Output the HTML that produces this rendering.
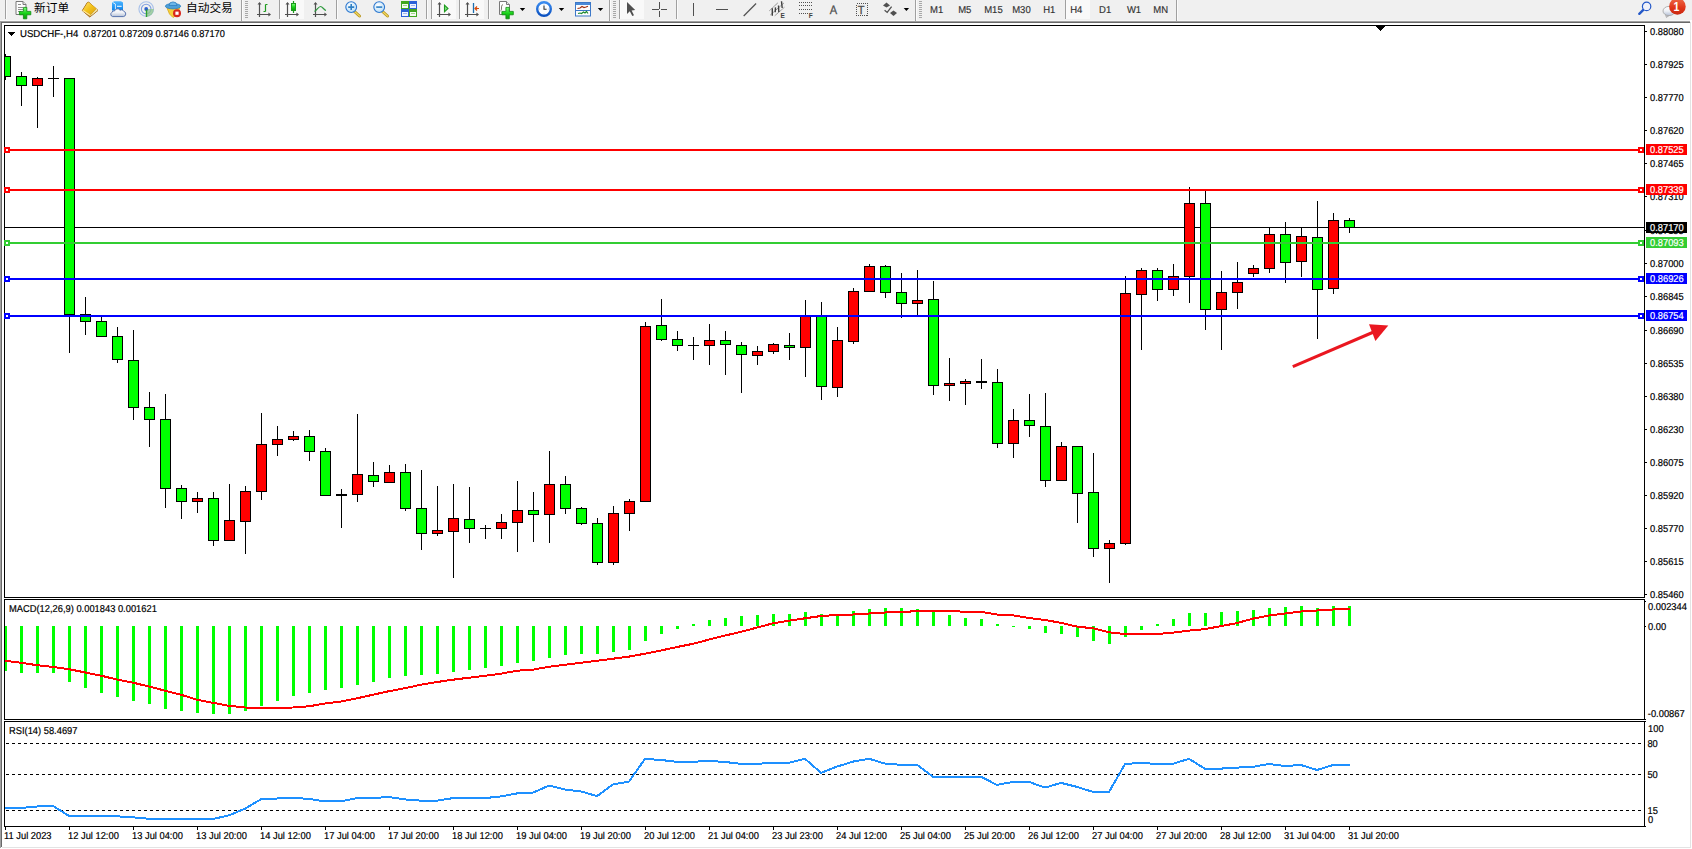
<!DOCTYPE html>
<html><head><meta charset="utf-8"><title>USDCHF-,H4</title>
<style>
html,body{margin:0;padding:0;background:#fff;}
body{width:1692px;height:849px;position:relative;overflow:hidden;font-family:"Liberation Sans","Noto Sans CJK SC",sans-serif;}
#tb{position:absolute;left:0;top:0;width:1692px;height:20px;background:#f0f0f0;}
#tbl{position:absolute;left:0;top:20px;width:1690px;height:3px;background:linear-gradient(#f7f7f7 0,#f7f7f7 33.3%,#a0a0a0 33.3%,#a0a0a0 66.6%,#696969 66.6%,#696969 100%);}
</style></head><body>
<div id="tb"></div><div id="tbl"></div>
<svg id="chart" width="1692" height="849" viewBox="0 0 1692 849" style="position:absolute;left:0;top:0">
<g shape-rendering="crispEdges">
<rect x="0" y="21" width="1" height="827" fill="#a0a0a0"/>
<rect x="1" y="22" width="1" height="825" fill="#696969"/>
<rect x="1690" y="22" width="1" height="825" fill="#e3e3e3"/>
<rect x="2" y="847" width="1689" height="1" fill="#e3e3e3"/>
<rect x="4" y="25" width="1641" height="1" fill="#000"/>
<rect x="4" y="597" width="1641" height="1" fill="#000"/>
<rect x="4" y="25" width="1" height="573" fill="#000"/>
<rect x="1644" y="25" width="1" height="573" fill="#000"/>
<rect x="4" y="599" width="1641" height="1" fill="#000"/>
<rect x="4" y="719" width="1641" height="1" fill="#000"/>
<rect x="4" y="599" width="1" height="121" fill="#000"/>
<rect x="1644" y="599" width="1" height="121" fill="#000"/>
<rect x="4" y="721" width="1641" height="1" fill="#000"/>
<rect x="4" y="826" width="1641" height="1" fill="#000"/>
<rect x="4" y="721" width="1" height="106" fill="#000"/>
<rect x="1644" y="721" width="1" height="106" fill="#000"/>
<rect x="5" y="227" width="1639" height="1" fill="#000"/>
<rect x="5" y="54" width="1" height="26" fill="#000"/>
<rect x="5" y="56" width="6" height="21" fill="#000"/>
<rect x="5" y="57" width="5" height="19" fill="#00ff00"/>
<rect x="21" y="72" width="1" height="34" fill="#000"/>
<rect x="16" y="76" width="11" height="10" fill="#000"/>
<rect x="17" y="77" width="9" height="8" fill="#00ff00"/>
<rect x="37" y="77" width="1" height="51" fill="#000"/>
<rect x="32" y="78" width="11" height="8" fill="#000"/>
<rect x="33" y="79" width="9" height="6" fill="#ff0000"/>
<rect x="53" y="66" width="1" height="31" fill="#000"/>
<rect x="48" y="78" width="11" height="1" fill="#000"/>
<rect x="69" y="78" width="1" height="275" fill="#000"/>
<rect x="64" y="78" width="11" height="237" fill="#000"/>
<rect x="65" y="79" width="9" height="235" fill="#00ff00"/>
<rect x="85" y="297" width="1" height="38" fill="#000"/>
<rect x="80" y="314" width="11" height="8" fill="#000"/>
<rect x="81" y="315" width="9" height="6" fill="#00ff00"/>
<rect x="101" y="317" width="1" height="20" fill="#000"/>
<rect x="96" y="321" width="11" height="16" fill="#000"/>
<rect x="97" y="322" width="9" height="14" fill="#00ff00"/>
<rect x="117" y="327" width="1" height="36" fill="#000"/>
<rect x="112" y="336" width="11" height="24" fill="#000"/>
<rect x="113" y="337" width="9" height="22" fill="#00ff00"/>
<rect x="133" y="330" width="1" height="90" fill="#000"/>
<rect x="128" y="360" width="11" height="48" fill="#000"/>
<rect x="129" y="361" width="9" height="46" fill="#00ff00"/>
<rect x="149" y="392" width="1" height="55" fill="#000"/>
<rect x="144" y="407" width="11" height="13" fill="#000"/>
<rect x="145" y="408" width="9" height="11" fill="#00ff00"/>
<rect x="165" y="394" width="1" height="114" fill="#000"/>
<rect x="160" y="419" width="11" height="70" fill="#000"/>
<rect x="161" y="420" width="9" height="68" fill="#00ff00"/>
<rect x="181" y="485" width="1" height="34" fill="#000"/>
<rect x="176" y="488" width="11" height="14" fill="#000"/>
<rect x="177" y="489" width="9" height="12" fill="#00ff00"/>
<rect x="197" y="492" width="1" height="21" fill="#000"/>
<rect x="192" y="498" width="11" height="4" fill="#000"/>
<rect x="193" y="499" width="9" height="2" fill="#ff0000"/>
<rect x="213" y="492" width="1" height="54" fill="#000"/>
<rect x="208" y="498" width="11" height="43" fill="#000"/>
<rect x="209" y="499" width="9" height="41" fill="#00ff00"/>
<rect x="229" y="484" width="1" height="56" fill="#000"/>
<rect x="224" y="520" width="11" height="21" fill="#000"/>
<rect x="225" y="521" width="9" height="19" fill="#ff0000"/>
<rect x="245" y="486" width="1" height="68" fill="#000"/>
<rect x="240" y="491" width="11" height="31" fill="#000"/>
<rect x="241" y="492" width="9" height="29" fill="#ff0000"/>
<rect x="261" y="413" width="1" height="87" fill="#000"/>
<rect x="256" y="444" width="11" height="48" fill="#000"/>
<rect x="257" y="445" width="9" height="46" fill="#ff0000"/>
<rect x="277" y="426" width="1" height="30" fill="#000"/>
<rect x="272" y="439" width="11" height="6" fill="#000"/>
<rect x="273" y="440" width="9" height="4" fill="#ff0000"/>
<rect x="293" y="431" width="1" height="10" fill="#000"/>
<rect x="288" y="436" width="11" height="4" fill="#000"/>
<rect x="289" y="437" width="9" height="2" fill="#ff0000"/>
<rect x="309" y="430" width="1" height="31" fill="#000"/>
<rect x="304" y="436" width="11" height="16" fill="#000"/>
<rect x="305" y="437" width="9" height="14" fill="#00ff00"/>
<rect x="325" y="448" width="1" height="48" fill="#000"/>
<rect x="320" y="451" width="11" height="45" fill="#000"/>
<rect x="321" y="452" width="9" height="43" fill="#00ff00"/>
<rect x="341" y="489" width="1" height="39" fill="#000"/>
<rect x="336" y="494" width="11" height="2" fill="#000"/>
<rect x="357" y="414" width="1" height="88" fill="#000"/>
<rect x="352" y="474" width="11" height="21" fill="#000"/>
<rect x="353" y="475" width="9" height="19" fill="#ff0000"/>
<rect x="373" y="462" width="1" height="25" fill="#000"/>
<rect x="368" y="475" width="11" height="7" fill="#000"/>
<rect x="369" y="476" width="9" height="5" fill="#00ff00"/>
<rect x="389" y="465" width="1" height="18" fill="#000"/>
<rect x="384" y="472" width="11" height="11" fill="#000"/>
<rect x="385" y="473" width="9" height="9" fill="#ff0000"/>
<rect x="405" y="464" width="1" height="47" fill="#000"/>
<rect x="400" y="472" width="11" height="37" fill="#000"/>
<rect x="401" y="473" width="9" height="35" fill="#00ff00"/>
<rect x="421" y="470" width="1" height="80" fill="#000"/>
<rect x="416" y="508" width="11" height="26" fill="#000"/>
<rect x="417" y="509" width="9" height="24" fill="#00ff00"/>
<rect x="437" y="486" width="1" height="50" fill="#000"/>
<rect x="432" y="530" width="11" height="4" fill="#000"/>
<rect x="433" y="531" width="9" height="2" fill="#ff0000"/>
<rect x="453" y="484" width="1" height="94" fill="#000"/>
<rect x="448" y="518" width="11" height="14" fill="#000"/>
<rect x="449" y="519" width="9" height="12" fill="#ff0000"/>
<rect x="469" y="487" width="1" height="56" fill="#000"/>
<rect x="464" y="519" width="11" height="10" fill="#000"/>
<rect x="465" y="520" width="9" height="8" fill="#00ff00"/>
<rect x="485" y="525" width="1" height="14" fill="#000"/>
<rect x="480" y="528" width="11" height="1" fill="#000"/>
<rect x="501" y="514" width="1" height="25" fill="#000"/>
<rect x="496" y="522" width="11" height="7" fill="#000"/>
<rect x="497" y="523" width="9" height="5" fill="#ff0000"/>
<rect x="517" y="481" width="1" height="71" fill="#000"/>
<rect x="512" y="510" width="11" height="13" fill="#000"/>
<rect x="513" y="511" width="9" height="11" fill="#ff0000"/>
<rect x="533" y="492" width="1" height="50" fill="#000"/>
<rect x="528" y="510" width="11" height="5" fill="#000"/>
<rect x="529" y="511" width="9" height="3" fill="#00ff00"/>
<rect x="549" y="451" width="1" height="92" fill="#000"/>
<rect x="544" y="484" width="11" height="31" fill="#000"/>
<rect x="545" y="485" width="9" height="29" fill="#ff0000"/>
<rect x="565" y="476" width="1" height="38" fill="#000"/>
<rect x="560" y="484" width="11" height="25" fill="#000"/>
<rect x="561" y="485" width="9" height="23" fill="#00ff00"/>
<rect x="581" y="507" width="1" height="18" fill="#000"/>
<rect x="576" y="508" width="11" height="16" fill="#000"/>
<rect x="577" y="509" width="9" height="14" fill="#00ff00"/>
<rect x="597" y="518" width="1" height="47" fill="#000"/>
<rect x="592" y="523" width="11" height="40" fill="#000"/>
<rect x="593" y="524" width="9" height="38" fill="#00ff00"/>
<rect x="613" y="506" width="1" height="59" fill="#000"/>
<rect x="608" y="513" width="11" height="50" fill="#000"/>
<rect x="609" y="514" width="9" height="48" fill="#ff0000"/>
<rect x="629" y="499" width="1" height="32" fill="#000"/>
<rect x="624" y="501" width="11" height="13" fill="#000"/>
<rect x="625" y="502" width="9" height="11" fill="#ff0000"/>
<rect x="645" y="322" width="1" height="180" fill="#000"/>
<rect x="640" y="326" width="11" height="176" fill="#000"/>
<rect x="641" y="327" width="9" height="174" fill="#ff0000"/>
<rect x="661" y="299" width="1" height="42" fill="#000"/>
<rect x="656" y="325" width="11" height="15" fill="#000"/>
<rect x="657" y="326" width="9" height="13" fill="#00ff00"/>
<rect x="677" y="331" width="1" height="20" fill="#000"/>
<rect x="672" y="339" width="11" height="7" fill="#000"/>
<rect x="673" y="340" width="9" height="5" fill="#00ff00"/>
<rect x="693" y="337" width="1" height="23" fill="#000"/>
<rect x="688" y="345" width="11" height="1" fill="#000"/>
<rect x="709" y="324" width="1" height="41" fill="#000"/>
<rect x="704" y="340" width="11" height="6" fill="#000"/>
<rect x="705" y="341" width="9" height="4" fill="#ff0000"/>
<rect x="725" y="331" width="1" height="44" fill="#000"/>
<rect x="720" y="340" width="11" height="5" fill="#000"/>
<rect x="721" y="341" width="9" height="3" fill="#00ff00"/>
<rect x="741" y="342" width="1" height="51" fill="#000"/>
<rect x="736" y="345" width="11" height="10" fill="#000"/>
<rect x="737" y="346" width="9" height="8" fill="#00ff00"/>
<rect x="757" y="346" width="1" height="19" fill="#000"/>
<rect x="752" y="351" width="11" height="5" fill="#000"/>
<rect x="753" y="352" width="9" height="3" fill="#ff0000"/>
<rect x="773" y="343" width="1" height="11" fill="#000"/>
<rect x="768" y="344" width="11" height="8" fill="#000"/>
<rect x="769" y="345" width="9" height="6" fill="#ff0000"/>
<rect x="789" y="333" width="1" height="27" fill="#000"/>
<rect x="784" y="345" width="11" height="3" fill="#000"/>
<rect x="785" y="346" width="9" height="1" fill="#00ff00"/>
<rect x="805" y="300" width="1" height="77" fill="#000"/>
<rect x="800" y="316" width="11" height="32" fill="#000"/>
<rect x="801" y="317" width="9" height="30" fill="#ff0000"/>
<rect x="821" y="302" width="1" height="98" fill="#000"/>
<rect x="816" y="316" width="11" height="71" fill="#000"/>
<rect x="817" y="317" width="9" height="69" fill="#00ff00"/>
<rect x="837" y="327" width="1" height="70" fill="#000"/>
<rect x="832" y="340" width="11" height="48" fill="#000"/>
<rect x="833" y="341" width="9" height="46" fill="#ff0000"/>
<rect x="853" y="288" width="1" height="56" fill="#000"/>
<rect x="848" y="291" width="11" height="51" fill="#000"/>
<rect x="849" y="292" width="9" height="49" fill="#ff0000"/>
<rect x="869" y="264" width="1" height="28" fill="#000"/>
<rect x="864" y="266" width="11" height="26" fill="#000"/>
<rect x="865" y="267" width="9" height="24" fill="#ff0000"/>
<rect x="885" y="265" width="1" height="33" fill="#000"/>
<rect x="880" y="266" width="11" height="27" fill="#000"/>
<rect x="881" y="267" width="9" height="25" fill="#00ff00"/>
<rect x="901" y="273" width="1" height="45" fill="#000"/>
<rect x="896" y="292" width="11" height="12" fill="#000"/>
<rect x="897" y="293" width="9" height="10" fill="#00ff00"/>
<rect x="917" y="270" width="1" height="45" fill="#000"/>
<rect x="912" y="300" width="11" height="4" fill="#000"/>
<rect x="913" y="301" width="9" height="2" fill="#ff0000"/>
<rect x="933" y="281" width="1" height="114" fill="#000"/>
<rect x="928" y="299" width="11" height="87" fill="#000"/>
<rect x="929" y="300" width="9" height="85" fill="#00ff00"/>
<rect x="949" y="358" width="1" height="43" fill="#000"/>
<rect x="944" y="383" width="11" height="3" fill="#000"/>
<rect x="945" y="384" width="9" height="1" fill="#ff0000"/>
<rect x="965" y="379" width="1" height="26" fill="#000"/>
<rect x="960" y="381" width="11" height="3" fill="#000"/>
<rect x="961" y="382" width="9" height="1" fill="#ff0000"/>
<rect x="981" y="359" width="1" height="30" fill="#000"/>
<rect x="976" y="381" width="11" height="2" fill="#000"/>
<rect x="997" y="369" width="1" height="79" fill="#000"/>
<rect x="992" y="382" width="11" height="62" fill="#000"/>
<rect x="993" y="383" width="9" height="60" fill="#00ff00"/>
<rect x="1013" y="409" width="1" height="49" fill="#000"/>
<rect x="1008" y="420" width="11" height="24" fill="#000"/>
<rect x="1009" y="421" width="9" height="22" fill="#ff0000"/>
<rect x="1029" y="394" width="1" height="43" fill="#000"/>
<rect x="1024" y="420" width="11" height="6" fill="#000"/>
<rect x="1025" y="421" width="9" height="4" fill="#00ff00"/>
<rect x="1045" y="393" width="1" height="94" fill="#000"/>
<rect x="1040" y="426" width="11" height="55" fill="#000"/>
<rect x="1041" y="427" width="9" height="53" fill="#00ff00"/>
<rect x="1061" y="442" width="1" height="39" fill="#000"/>
<rect x="1056" y="446" width="11" height="35" fill="#000"/>
<rect x="1057" y="447" width="9" height="33" fill="#ff0000"/>
<rect x="1077" y="446" width="1" height="77" fill="#000"/>
<rect x="1072" y="446" width="11" height="48" fill="#000"/>
<rect x="1073" y="447" width="9" height="46" fill="#00ff00"/>
<rect x="1093" y="453" width="1" height="104" fill="#000"/>
<rect x="1088" y="492" width="11" height="57" fill="#000"/>
<rect x="1089" y="493" width="9" height="55" fill="#00ff00"/>
<rect x="1109" y="540" width="1" height="43" fill="#000"/>
<rect x="1104" y="543" width="11" height="6" fill="#000"/>
<rect x="1105" y="544" width="9" height="4" fill="#ff0000"/>
<rect x="1125" y="276" width="1" height="269" fill="#000"/>
<rect x="1120" y="293" width="11" height="251" fill="#000"/>
<rect x="1121" y="294" width="9" height="249" fill="#ff0000"/>
<rect x="1141" y="268" width="1" height="82" fill="#000"/>
<rect x="1136" y="270" width="11" height="25" fill="#000"/>
<rect x="1137" y="271" width="9" height="23" fill="#ff0000"/>
<rect x="1157" y="268" width="1" height="33" fill="#000"/>
<rect x="1152" y="270" width="11" height="20" fill="#000"/>
<rect x="1153" y="271" width="9" height="18" fill="#00ff00"/>
<rect x="1173" y="264" width="1" height="32" fill="#000"/>
<rect x="1168" y="276" width="11" height="14" fill="#000"/>
<rect x="1169" y="277" width="9" height="12" fill="#ff0000"/>
<rect x="1189" y="187" width="1" height="116" fill="#000"/>
<rect x="1184" y="203" width="11" height="74" fill="#000"/>
<rect x="1185" y="204" width="9" height="72" fill="#ff0000"/>
<rect x="1205" y="191" width="1" height="139" fill="#000"/>
<rect x="1200" y="203" width="11" height="107" fill="#000"/>
<rect x="1201" y="204" width="9" height="105" fill="#00ff00"/>
<rect x="1221" y="271" width="1" height="79" fill="#000"/>
<rect x="1216" y="292" width="11" height="18" fill="#000"/>
<rect x="1217" y="293" width="9" height="16" fill="#ff0000"/>
<rect x="1237" y="262" width="1" height="47" fill="#000"/>
<rect x="1232" y="282" width="11" height="11" fill="#000"/>
<rect x="1233" y="283" width="9" height="9" fill="#ff0000"/>
<rect x="1253" y="265" width="1" height="12" fill="#000"/>
<rect x="1248" y="268" width="11" height="6" fill="#000"/>
<rect x="1249" y="269" width="9" height="4" fill="#ff0000"/>
<rect x="1269" y="228" width="1" height="45" fill="#000"/>
<rect x="1264" y="234" width="11" height="35" fill="#000"/>
<rect x="1265" y="235" width="9" height="33" fill="#ff0000"/>
<rect x="1285" y="222" width="1" height="61" fill="#000"/>
<rect x="1280" y="234" width="11" height="29" fill="#000"/>
<rect x="1281" y="235" width="9" height="27" fill="#00ff00"/>
<rect x="1301" y="228" width="1" height="49" fill="#000"/>
<rect x="1296" y="236" width="11" height="26" fill="#000"/>
<rect x="1297" y="237" width="9" height="24" fill="#ff0000"/>
<rect x="1317" y="201" width="1" height="138" fill="#000"/>
<rect x="1312" y="237" width="11" height="53" fill="#000"/>
<rect x="1313" y="238" width="9" height="51" fill="#00ff00"/>
<rect x="1333" y="213" width="1" height="81" fill="#000"/>
<rect x="1328" y="220" width="11" height="69" fill="#000"/>
<rect x="1329" y="221" width="9" height="67" fill="#ff0000"/>
<rect x="1349" y="218" width="1" height="15" fill="#000"/>
<rect x="1344" y="220" width="11" height="8" fill="#000"/>
<rect x="1345" y="221" width="9" height="6" fill="#00ff00"/>
<rect x="5" y="149" width="1639" height="2" fill="#ff0000"/>
<rect x="4" y="147" width="6" height="6" fill="#ff0000"/>
<rect x="6" y="149" width="2" height="2" fill="#fff"/>
<rect x="1638" y="147" width="6" height="6" fill="#ff0000"/>
<rect x="1640" y="149" width="2" height="2" fill="#fff"/>
<rect x="5" y="189" width="1639" height="2" fill="#ff0000"/>
<rect x="4" y="187" width="6" height="6" fill="#ff0000"/>
<rect x="6" y="189" width="2" height="2" fill="#fff"/>
<rect x="1638" y="187" width="6" height="6" fill="#ff0000"/>
<rect x="1640" y="189" width="2" height="2" fill="#fff"/>
<rect x="5" y="242" width="1639" height="2" fill="#32cd32"/>
<rect x="4" y="240" width="6" height="6" fill="#32cd32"/>
<rect x="6" y="242" width="2" height="2" fill="#fff"/>
<rect x="1638" y="240" width="6" height="6" fill="#32cd32"/>
<rect x="1640" y="242" width="2" height="2" fill="#fff"/>
<rect x="5" y="278" width="1639" height="2" fill="#0000ff"/>
<rect x="4" y="276" width="6" height="6" fill="#0000ff"/>
<rect x="6" y="278" width="2" height="2" fill="#fff"/>
<rect x="1638" y="276" width="6" height="6" fill="#0000ff"/>
<rect x="1640" y="278" width="2" height="2" fill="#fff"/>
<rect x="5" y="315" width="1639" height="2" fill="#0000ff"/>
<rect x="4" y="313" width="6" height="6" fill="#0000ff"/>
<rect x="6" y="315" width="2" height="2" fill="#fff"/>
<rect x="1638" y="313" width="6" height="6" fill="#0000ff"/>
<rect x="1640" y="315" width="2" height="2" fill="#fff"/>
<rect x="5" y="626" width="2" height="45" fill="#00ff00"/>
<rect x="20" y="626" width="3" height="47" fill="#00ff00"/>
<rect x="36" y="626" width="3" height="47" fill="#00ff00"/>
<rect x="52" y="626" width="3" height="47" fill="#00ff00"/>
<rect x="68" y="626" width="3" height="56" fill="#00ff00"/>
<rect x="84" y="626" width="3" height="62" fill="#00ff00"/>
<rect x="100" y="626" width="3" height="67" fill="#00ff00"/>
<rect x="116" y="626" width="3" height="71" fill="#00ff00"/>
<rect x="132" y="626" width="3" height="75" fill="#00ff00"/>
<rect x="148" y="626" width="3" height="78" fill="#00ff00"/>
<rect x="164" y="626" width="3" height="83" fill="#00ff00"/>
<rect x="180" y="626" width="3" height="85" fill="#00ff00"/>
<rect x="196" y="626" width="3" height="87" fill="#00ff00"/>
<rect x="212" y="626" width="3" height="88" fill="#00ff00"/>
<rect x="228" y="626" width="3" height="88" fill="#00ff00"/>
<rect x="244" y="626" width="3" height="85" fill="#00ff00"/>
<rect x="260" y="626" width="3" height="80" fill="#00ff00"/>
<rect x="276" y="626" width="3" height="75" fill="#00ff00"/>
<rect x="292" y="626" width="3" height="70" fill="#00ff00"/>
<rect x="308" y="626" width="3" height="67" fill="#00ff00"/>
<rect x="324" y="626" width="3" height="64" fill="#00ff00"/>
<rect x="340" y="626" width="3" height="62" fill="#00ff00"/>
<rect x="356" y="626" width="3" height="59" fill="#00ff00"/>
<rect x="372" y="626" width="3" height="56" fill="#00ff00"/>
<rect x="388" y="626" width="3" height="52" fill="#00ff00"/>
<rect x="404" y="626" width="3" height="50" fill="#00ff00"/>
<rect x="420" y="626" width="3" height="49" fill="#00ff00"/>
<rect x="436" y="626" width="3" height="48" fill="#00ff00"/>
<rect x="452" y="626" width="3" height="46" fill="#00ff00"/>
<rect x="468" y="626" width="3" height="44" fill="#00ff00"/>
<rect x="484" y="626" width="3" height="42" fill="#00ff00"/>
<rect x="500" y="626" width="3" height="40" fill="#00ff00"/>
<rect x="516" y="626" width="3" height="37" fill="#00ff00"/>
<rect x="532" y="626" width="3" height="35" fill="#00ff00"/>
<rect x="548" y="626" width="3" height="32" fill="#00ff00"/>
<rect x="564" y="626" width="3" height="29" fill="#00ff00"/>
<rect x="580" y="626" width="3" height="28" fill="#00ff00"/>
<rect x="596" y="626" width="3" height="28" fill="#00ff00"/>
<rect x="612" y="626" width="3" height="26" fill="#00ff00"/>
<rect x="628" y="626" width="3" height="24" fill="#00ff00"/>
<rect x="644" y="626" width="3" height="15" fill="#00ff00"/>
<rect x="660" y="626" width="3" height="8" fill="#00ff00"/>
<rect x="676" y="626" width="3" height="3" fill="#00ff00"/>
<rect x="692" y="624" width="3" height="2" fill="#00ff00"/>
<rect x="708" y="620" width="3" height="6" fill="#00ff00"/>
<rect x="724" y="618" width="3" height="8" fill="#00ff00"/>
<rect x="740" y="616" width="3" height="10" fill="#00ff00"/>
<rect x="756" y="615" width="3" height="11" fill="#00ff00"/>
<rect x="772" y="614" width="3" height="12" fill="#00ff00"/>
<rect x="788" y="614" width="3" height="12" fill="#00ff00"/>
<rect x="804" y="612" width="3" height="14" fill="#00ff00"/>
<rect x="820" y="614" width="3" height="12" fill="#00ff00"/>
<rect x="836" y="614" width="3" height="12" fill="#00ff00"/>
<rect x="852" y="611" width="3" height="15" fill="#00ff00"/>
<rect x="868" y="609" width="3" height="17" fill="#00ff00"/>
<rect x="884" y="608" width="3" height="18" fill="#00ff00"/>
<rect x="900" y="608" width="3" height="18" fill="#00ff00"/>
<rect x="916" y="609" width="3" height="17" fill="#00ff00"/>
<rect x="932" y="612" width="3" height="14" fill="#00ff00"/>
<rect x="948" y="615" width="3" height="11" fill="#00ff00"/>
<rect x="964" y="618" width="3" height="8" fill="#00ff00"/>
<rect x="980" y="619" width="3" height="7" fill="#00ff00"/>
<rect x="996" y="624" width="3" height="2" fill="#00ff00"/>
<rect x="1012" y="626" width="3" height="1" fill="#00ff00"/>
<rect x="1028" y="626" width="3" height="3" fill="#00ff00"/>
<rect x="1044" y="626" width="3" height="7" fill="#00ff00"/>
<rect x="1060" y="626" width="3" height="8" fill="#00ff00"/>
<rect x="1076" y="626" width="3" height="11" fill="#00ff00"/>
<rect x="1092" y="626" width="3" height="15" fill="#00ff00"/>
<rect x="1108" y="626" width="3" height="18" fill="#00ff00"/>
<rect x="1124" y="626" width="3" height="11" fill="#00ff00"/>
<rect x="1140" y="626" width="3" height="4" fill="#00ff00"/>
<rect x="1156" y="624" width="3" height="2" fill="#00ff00"/>
<rect x="1172" y="619" width="3" height="7" fill="#00ff00"/>
<rect x="1188" y="613" width="3" height="13" fill="#00ff00"/>
<rect x="1204" y="613" width="3" height="13" fill="#00ff00"/>
<rect x="1220" y="612" width="3" height="14" fill="#00ff00"/>
<rect x="1236" y="611" width="3" height="15" fill="#00ff00"/>
<rect x="1252" y="610" width="3" height="16" fill="#00ff00"/>
<rect x="1268" y="608" width="3" height="18" fill="#00ff00"/>
<rect x="1284" y="607" width="3" height="19" fill="#00ff00"/>
<rect x="1300" y="606" width="3" height="20" fill="#00ff00"/>
<rect x="1316" y="608" width="3" height="18" fill="#00ff00"/>
<rect x="1332" y="606" width="3" height="20" fill="#00ff00"/>
<rect x="1348" y="606" width="3" height="20" fill="#00ff00"/>
</g>
<polyline points="5,660.7 21,662.7 37,665.2 53,666.9 69,669.2 85,672.4 101,675.7 117,679.5 133,682.7 149,686.5 165,690.7 181,694.7 197,699.8 213,702.8 229,705.8 245,707.5 261,707.8 277,707.8 293,707.5 309,706.3 325,703.5 341,701.5 357,698.3 373,694.7 389,691.2 405,688.2 421,684.7 437,682.0 453,679.7 469,677.7 485,675.7 501,673.7 517,670.7 533,669.7 549,666.7 565,664.7 581,662.7 597,660.7 613,658.7 629,656.6 645,653.7 661,650.5 677,647.0 693,643.8 709,639.6 725,635.6 741,631.8 757,627.6 773,623.3 789,620.6 805,618.3 821,616.0 837,615.0 853,614.5 869,613.5 885,612.5 901,611.8 917,611.3 933,610.8 949,610.8 965,611.8 981,611.8 997,614.5 1013,615.3 1029,618.0 1045,620.0 1061,622.8 1077,626.6 1093,628.3 1109,632.3 1125,634.1 1141,634.1 1157,634.1 1173,632.6 1189,630.6 1205,629.1 1221,626.1 1237,623.1 1253,618.6 1269,615.5 1285,613.5 1301,611.5 1317,610.5 1333,609.5 1349,608.5 1350,608.5" fill="none" stroke="#ff0000" stroke-width="2" stroke-linejoin="round" shape-rendering="crispEdges"/>
<g shape-rendering="crispEdges">
<line x1="6" y1="743.5" x2="1644" y2="743.5" stroke="#000" stroke-width="1" stroke-dasharray="3 3"/>
<line x1="6" y1="774.5" x2="1644" y2="774.5" stroke="#000" stroke-width="1" stroke-dasharray="3 3"/>
<line x1="6" y1="810.5" x2="1644" y2="810.5" stroke="#000" stroke-width="1" stroke-dasharray="3 3"/>
</g>
<polyline points="5,808.0 21,808.0 37,806.5 53,806.0 69,815.9 85,815.9 101,815.9 117,816.3 133,817.3 149,818.8 165,819.0 181,819.0 197,819.0 213,819.0 229,815.3 245,808.7 261,799.2 277,798.5 293,797.9 309,798.9 325,801.4 341,801.4 357,798.1 373,797.9 389,797.1 405,799.4 421,800.7 437,800.7 453,798.1 469,798.1 485,798.1 501,796.4 517,793.4 533,792.6 549,785.6 565,789.6 581,791.4 597,796.1 613,784.4 629,781.6 645,758.8 661,760.0 677,761.8 693,761.8 709,760.8 725,762.0 741,763.8 757,763.8 773,762.8 789,762.8 805,758.8 821,772.8 837,766.6 853,761.6 869,758.8 885,763.6 901,764.8 917,764.8 933,776.8 949,776.8 965,776.8 981,776.8 997,784.9 1013,781.9 1029,781.9 1045,787.6 1061,782.9 1077,786.9 1093,791.9 1109,791.9 1125,764.0 1141,762.8 1157,764.0 1173,763.8 1189,758.8 1205,768.8 1221,768.6 1237,767.6 1253,766.8 1269,764.0 1285,766.0 1301,765.0 1317,770.0 1333,765.0 1349,765.0 1350,765.0" fill="none" stroke="#1e90ff" stroke-width="2" stroke-linejoin="round" shape-rendering="crispEdges"/>
<line x1="1292.8" y1="366.6" x2="1376" y2="331" stroke="#ea1720" stroke-width="3"/>
<polygon points="1388.3,325.6 1369,324.3 1375.4,341" fill="#ea1720"/>
<g shape-rendering="crispEdges">
<rect x="1645" y="31" width="2" height="1" fill="#000"/>
<rect x="1645" y="64" width="2" height="1" fill="#000"/>
<rect x="1645" y="97" width="2" height="1" fill="#000"/>
<rect x="1645" y="130" width="2" height="1" fill="#000"/>
<rect x="1645" y="163" width="2" height="1" fill="#000"/>
<rect x="1645" y="196" width="2" height="1" fill="#000"/>
<rect x="1645" y="230" width="2" height="1" fill="#000"/>
<rect x="1645" y="263" width="2" height="1" fill="#000"/>
<rect x="1645" y="296" width="2" height="1" fill="#000"/>
<rect x="1645" y="330" width="2" height="1" fill="#000"/>
<rect x="1645" y="363" width="2" height="1" fill="#000"/>
<rect x="1645" y="396" width="2" height="1" fill="#000"/>
<rect x="1645" y="429" width="2" height="1" fill="#000"/>
<rect x="1645" y="462" width="2" height="1" fill="#000"/>
<rect x="1645" y="495" width="2" height="1" fill="#000"/>
<rect x="1645" y="528" width="2" height="1" fill="#000"/>
<rect x="1645" y="561" width="2" height="1" fill="#000"/>
<rect x="1645" y="594" width="2" height="1" fill="#000"/>
<rect x="1645" y="601" width="1" height="1" fill="#000"/>
<rect x="1645" y="626" width="1" height="1" fill="#000"/>
<rect x="1645" y="719" width="1" height="1" fill="#000"/>
<rect x="1645" y="721" width="1" height="1" fill="#000"/>
<rect x="1645" y="826" width="1" height="1" fill="#000"/>
<rect x="5" y="827" width="1" height="3" fill="#000"/>
<rect x="69" y="827" width="1" height="3" fill="#000"/>
<rect x="133" y="827" width="1" height="3" fill="#000"/>
<rect x="197" y="827" width="1" height="3" fill="#000"/>
<rect x="261" y="827" width="1" height="3" fill="#000"/>
<rect x="325" y="827" width="1" height="3" fill="#000"/>
<rect x="389" y="827" width="1" height="3" fill="#000"/>
<rect x="453" y="827" width="1" height="3" fill="#000"/>
<rect x="517" y="827" width="1" height="3" fill="#000"/>
<rect x="581" y="827" width="1" height="3" fill="#000"/>
<rect x="645" y="827" width="1" height="3" fill="#000"/>
<rect x="709" y="827" width="1" height="3" fill="#000"/>
<rect x="773" y="827" width="1" height="3" fill="#000"/>
<rect x="837" y="827" width="1" height="3" fill="#000"/>
<rect x="901" y="827" width="1" height="3" fill="#000"/>
<rect x="965" y="827" width="1" height="3" fill="#000"/>
<rect x="1029" y="827" width="1" height="3" fill="#000"/>
<rect x="1093" y="827" width="1" height="3" fill="#000"/>
<rect x="1157" y="827" width="1" height="3" fill="#000"/>
<rect x="1221" y="827" width="1" height="3" fill="#000"/>
<rect x="1285" y="827" width="1" height="3" fill="#000"/>
<rect x="1349" y="827" width="1" height="3" fill="#000"/>
</g>
<g font-family="Liberation Sans, sans-serif" font-size="10px" text-rendering="geometricPrecision" stroke-width="0.2">
<text transform="translate(1650 35) scale(0.933 1)" fill="#000" stroke="#000" xml:space="preserve">0.88080</text>
<text transform="translate(1650 68) scale(0.933 1)" fill="#000" stroke="#000" xml:space="preserve">0.87925</text>
<text transform="translate(1650 101) scale(0.933 1)" fill="#000" stroke="#000" xml:space="preserve">0.87770</text>
<text transform="translate(1650 134) scale(0.933 1)" fill="#000" stroke="#000" xml:space="preserve">0.87620</text>
<text transform="translate(1650 167) scale(0.933 1)" fill="#000" stroke="#000" xml:space="preserve">0.87465</text>
<text transform="translate(1650 200) scale(0.933 1)" fill="#000" stroke="#000" xml:space="preserve">0.87310</text>
<text transform="translate(1650 234) scale(0.933 1)" fill="#000" stroke="#000" xml:space="preserve">0.87155</text>
<text transform="translate(1650 267) scale(0.933 1)" fill="#000" stroke="#000" xml:space="preserve">0.87000</text>
<text transform="translate(1650 300) scale(0.933 1)" fill="#000" stroke="#000" xml:space="preserve">0.86845</text>
<text transform="translate(1650 334) scale(0.933 1)" fill="#000" stroke="#000" xml:space="preserve">0.86690</text>
<text transform="translate(1650 367) scale(0.933 1)" fill="#000" stroke="#000" xml:space="preserve">0.86535</text>
<text transform="translate(1650 400) scale(0.933 1)" fill="#000" stroke="#000" xml:space="preserve">0.86380</text>
<text transform="translate(1650 433) scale(0.933 1)" fill="#000" stroke="#000" xml:space="preserve">0.86230</text>
<text transform="translate(1650 466) scale(0.933 1)" fill="#000" stroke="#000" xml:space="preserve">0.86075</text>
<text transform="translate(1650 499) scale(0.933 1)" fill="#000" stroke="#000" xml:space="preserve">0.85920</text>
<text transform="translate(1650 532) scale(0.933 1)" fill="#000" stroke="#000" xml:space="preserve">0.85770</text>
<text transform="translate(1650 565) scale(0.933 1)" fill="#000" stroke="#000" xml:space="preserve">0.85615</text>
<text transform="translate(1650 598) scale(0.933 1)" fill="#000" stroke="#000" xml:space="preserve">0.85460</text>
</g>
<g shape-rendering="crispEdges">
<rect x="1646" y="144" width="41" height="11" fill="#ff0000"/>
<rect x="1646" y="184" width="41" height="11" fill="#ff0000"/>
<rect x="1646" y="222" width="41" height="11" fill="#000"/>
<rect x="1646" y="237" width="41" height="11" fill="#32cd32"/>
<rect x="1646" y="273" width="41" height="11" fill="#0000ff"/>
<rect x="1646" y="310" width="41" height="11" fill="#0000ff"/>
</g>
<g font-family="Liberation Sans, sans-serif" font-size="10px" text-rendering="geometricPrecision" stroke-width="0.2">
<text transform="translate(1650 153) scale(0.933 1)" fill="#fff" stroke="#fff" xml:space="preserve">0.87525</text>
<text transform="translate(1650 193) scale(0.933 1)" fill="#fff" stroke="#fff" xml:space="preserve">0.87339</text>
<text transform="translate(1650 231) scale(0.933 1)" fill="#fff" stroke="#fff" xml:space="preserve">0.87170</text>
<text transform="translate(1650 246) scale(0.933 1)" fill="#fff" stroke="#fff" xml:space="preserve">0.87093</text>
<text transform="translate(1650 282) scale(0.933 1)" fill="#fff" stroke="#fff" xml:space="preserve">0.86926</text>
<text transform="translate(1650 319) scale(0.933 1)" fill="#fff" stroke="#fff" xml:space="preserve">0.86754</text>
</g>
<g font-family="Liberation Sans, sans-serif" font-size="10px" text-rendering="geometricPrecision" stroke-width="0.2">
<text transform="translate(1648 610) scale(0.933 1)" fill="#000" stroke="#000" xml:space="preserve">0.002344</text>
<text transform="translate(1648 630) scale(0.933 1)" fill="#000" stroke="#000" xml:space="preserve">0.00</text>
<text transform="translate(1647.8 716.6) scale(0.933 1)" fill="#000" stroke="#000" xml:space="preserve">-0.00867</text>
<text transform="translate(1648 732) scale(0.933 1)" fill="#000" stroke="#000" xml:space="preserve">100</text>
<text transform="translate(1647.4 747) scale(0.933 1)" fill="#000" stroke="#000" xml:space="preserve">80</text>
<text transform="translate(1647.4 778) scale(0.933 1)" fill="#000" stroke="#000" xml:space="preserve">50</text>
<text transform="translate(1647.6 814) scale(0.933 1)" fill="#000" stroke="#000" xml:space="preserve">15</text>
<text transform="translate(1648 823) scale(0.933 1)" fill="#000" stroke="#000" xml:space="preserve">0</text>
<text transform="translate(4 839) scale(0.933 1)" fill="#000" stroke="#000" xml:space="preserve">11 Jul 2023</text>
<text transform="translate(68 839) scale(0.933 1)" fill="#000" stroke="#000" xml:space="preserve">12 Jul 12:00</text>
<text transform="translate(132 839) scale(0.933 1)" fill="#000" stroke="#000" xml:space="preserve">13 Jul 04:00</text>
<text transform="translate(196 839) scale(0.933 1)" fill="#000" stroke="#000" xml:space="preserve">13 Jul 20:00</text>
<text transform="translate(260 839) scale(0.933 1)" fill="#000" stroke="#000" xml:space="preserve">14 Jul 12:00</text>
<text transform="translate(324 839) scale(0.933 1)" fill="#000" stroke="#000" xml:space="preserve">17 Jul 04:00</text>
<text transform="translate(388 839) scale(0.933 1)" fill="#000" stroke="#000" xml:space="preserve">17 Jul 20:00</text>
<text transform="translate(452 839) scale(0.933 1)" fill="#000" stroke="#000" xml:space="preserve">18 Jul 12:00</text>
<text transform="translate(516 839) scale(0.933 1)" fill="#000" stroke="#000" xml:space="preserve">19 Jul 04:00</text>
<text transform="translate(580 839) scale(0.933 1)" fill="#000" stroke="#000" xml:space="preserve">19 Jul 20:00</text>
<text transform="translate(644 839) scale(0.933 1)" fill="#000" stroke="#000" xml:space="preserve">20 Jul 12:00</text>
<text transform="translate(708 839) scale(0.933 1)" fill="#000" stroke="#000" xml:space="preserve">21 Jul 04:00</text>
<text transform="translate(772 839) scale(0.933 1)" fill="#000" stroke="#000" xml:space="preserve">23 Jul 23:00</text>
<text transform="translate(836 839) scale(0.933 1)" fill="#000" stroke="#000" xml:space="preserve">24 Jul 12:00</text>
<text transform="translate(900 839) scale(0.933 1)" fill="#000" stroke="#000" xml:space="preserve">25 Jul 04:00</text>
<text transform="translate(964 839) scale(0.933 1)" fill="#000" stroke="#000" xml:space="preserve">25 Jul 20:00</text>
<text transform="translate(1028 839) scale(0.933 1)" fill="#000" stroke="#000" xml:space="preserve">26 Jul 12:00</text>
<text transform="translate(1092 839) scale(0.933 1)" fill="#000" stroke="#000" xml:space="preserve">27 Jul 04:00</text>
<text transform="translate(1156 839) scale(0.933 1)" fill="#000" stroke="#000" xml:space="preserve">27 Jul 20:00</text>
<text transform="translate(1220 839) scale(0.933 1)" fill="#000" stroke="#000" xml:space="preserve">28 Jul 12:00</text>
<text transform="translate(1284 839) scale(0.933 1)" fill="#000" stroke="#000" xml:space="preserve">31 Jul 04:00</text>
<text transform="translate(1348 839) scale(0.933 1)" fill="#000" stroke="#000" xml:space="preserve">31 Jul 20:00</text>
<text transform="translate(20 37) scale(0.962 1)" fill="#000" stroke="#000">USDCHF-,H4</text>
<text transform="translate(83.4 37) scale(0.925 1)" fill="#000" stroke="#000">0.87201 0.87209 0.87146 0.87170</text>
<text transform="translate(9 612) scale(0.933 1)" fill="#000" stroke="#000" xml:space="preserve">MACD(12,26,9) 0.001843 0.001621</text>
<text transform="translate(9 734) scale(0.933 1)" fill="#000" stroke="#000" xml:space="preserve">RSI(14) 58.4697</text>
</g>
<g shape-rendering="crispEdges">
<rect x="8" y="32" width="7" height="1" fill="#000"/>
<rect x="9" y="33" width="5" height="1" fill="#000"/>
<rect x="10" y="34" width="3" height="1" fill="#000"/>
<rect x="11" y="35" width="1" height="1" fill="#000"/>
<rect x="1376" y="26" width="9" height="1" fill="#000"/>
<rect x="1377" y="27" width="7" height="1" fill="#000"/>
<rect x="1378" y="28" width="5" height="1" fill="#000"/>
<rect x="1379" y="29" width="3" height="1" fill="#000"/>
<rect x="1380" y="30" width="1" height="1" fill="#000"/>
</g>
</svg>
<svg id="toolbar" width="1692" height="24" viewBox="0 0 1692 24" style="position:absolute;left:0;top:0">
<defs>
<linearGradient id="gGreen" x1="0" y1="0" x2="0" y2="1"><stop offset="0" stop-color="#7dff7d"/><stop offset="0.5" stop-color="#19d419"/><stop offset="1" stop-color="#0a9a0a"/></linearGradient>
<linearGradient id="gGold" x1="0" y1="0" x2="1" y2="1"><stop offset="0" stop-color="#ffe070"/><stop offset="0.5" stop-color="#f2c21a"/><stop offset="1" stop-color="#d89c14"/></linearGradient>
<linearGradient id="gBlue" x1="0" y1="0" x2="0" y2="1"><stop offset="0" stop-color="#4cb4ff"/><stop offset="1" stop-color="#0a84ec"/></linearGradient>
<linearGradient id="gRed" x1="0" y1="0" x2="0" y2="1"><stop offset="0" stop-color="#ee6a48"/><stop offset="0.6" stop-color="#e03418"/><stop offset="1" stop-color="#c82810"/></linearGradient>
<linearGradient id="gCloud" x1="0" y1="0" x2="0" y2="1"><stop offset="0" stop-color="#ffffff"/><stop offset="0.5" stop-color="#eef1f6"/><stop offset="1" stop-color="#b4c0d6"/></linearGradient>
<linearGradient id="gBlue2" x1="0" y1="0" x2="0" y2="1"><stop offset="0" stop-color="#3a8cf0"/><stop offset="1" stop-color="#0a50c0"/></linearGradient>
<radialGradient id="gLens" cx="0.4" cy="0.35" r="0.7"><stop offset="0" stop-color="#ffffff"/><stop offset="1" stop-color="#b5dcf7"/></radialGradient>
<g id="plus"><path d="M4.4,0.4h3.4v4h4v3.4h-4v4h-3.4v-4h-4v-3.4h4z" fill="url(#gGreen)" stroke="#0f8a0f" stroke-width="0.8"/></g>
<g id="doc"><path d="M1.5,0.5h7l3,3v10h-10z" fill="#fdfdfd" stroke="#787878" stroke-width="1"/><path d="M8.5,0.5v3h3" fill="#e8e8e8" stroke="#787878" stroke-width="1"/></g>
<g id="axes" fill="none" stroke="#505050" stroke-width="1.2"><path d="M2.5,17V3M0,14.5H13"/><path d="M2.5,2l-2,2.6h4zM14,14.5l-2.6,-2v4z" fill="#505050" stroke="none"/></g>
<g id="dd"><polygon points="0,0 5.4,0 2.7,3" fill="#000"/></g>
<g id="grip" shape-rendering="crispEdges" fill="#a8a8a8"><rect x="0" y="1" width="3" height="1"/><rect x="0" y="3" width="3" height="1"/><rect x="0" y="5" width="3" height="1"/><rect x="0" y="7" width="3" height="1"/><rect x="0" y="9" width="3" height="1"/><rect x="0" y="11" width="3" height="1"/><rect x="0" y="13" width="3" height="1"/><rect x="0" y="15" width="3" height="1"/><rect x="0" y="17" width="3" height="1"/></g>
</defs>
<!-- pressed backgrounds -->
<g shape-rendering="crispEdges" fill="#f9f9f9">
<rect x="280" y="0" width="24" height="19"/><rect x="432" y="0" width="24" height="19"/><rect x="460" y="0" width="24" height="19"/><rect x="620" y="0" width="24" height="19"/><rect x="1066" y="0" width="24" height="19"/>
</g>
<!-- separators -->
<g shape-rendering="crispEdges" fill="#a0a0a0">
<rect x="5" y="0" width="1" height="19"/>
<rect x="241" y="0" width="1" height="21"/>
<rect x="279" y="0" width="1" height="19"/>
<rect x="336" y="0" width="1" height="19"/>
<rect x="426" y="0" width="1" height="19"/>
<rect x="431" y="0" width="1" height="19"/>
<rect x="459" y="0" width="1" height="19"/>
<rect x="488" y="0" width="1" height="19"/>
<rect x="609" y="0" width="1" height="21"/>
<rect x="619" y="0" width="1" height="19"/>
<rect x="676" y="0" width="1" height="19"/>
<rect x="915" y="0" width="1" height="21"/>
<rect x="1065" y="0" width="1" height="19"/>
<rect x="1176" y="0" width="1" height="21"/>
</g>
<g shape-rendering="crispEdges" fill="#fbfbfb"><rect x="6" y="0" width="1" height="19"/><rect x="242" y="0" width="1" height="20"/><rect x="280" y="0" width="1" height="19"/><rect x="337" y="0" width="1" height="19"/><rect x="427" y="0" width="1" height="19"/><rect x="432" y="0" width="1" height="19"/><rect x="460" y="0" width="1" height="19"/><rect x="489" y="0" width="1" height="19"/><rect x="610" y="0" width="1" height="20"/><rect x="620" y="0" width="1" height="19"/><rect x="677" y="0" width="1" height="19"/><rect x="916" y="0" width="1" height="20"/><rect x="1066" y="0" width="1" height="19"/><rect x="1177" y="0" width="1" height="20"/></g>
<use href="#grip" x="245" y="0"/><use href="#grip" x="613" y="0"/><use href="#grip" x="919" y="0"/>
<!-- new order -->
<use href="#doc" x="14.5" y="1"/>
<g stroke="#909090" stroke-width="1" shape-rendering="crispEdges"><path d="M18,4.5h3M18,7.5h5M18,9.5h5M18,11.5h3"/></g>
<use href="#plus" x="19" y="7"/>
<text x="34" y="12" font-family="Liberation Sans, Noto Sans CJK SC, sans-serif" font-size="11.7px" fill="#000">新订单</text>
<!-- book -->
<g>
<path d="M82.3,10.6L87.3,2.6Q88,1.7 89,2.4L98,10.4L89.8,17Z" fill="#c08a1c" stroke="#9a5e0a" stroke-width="0.9" stroke-linejoin="round"/>
<path d="M90.4,15.2L96.6,8.6L97.6,10.4L90,16.6Z" fill="#efe2a8"/>
<path d="M82.6,10.4L87.6,2.6Q88.2,2 89,2.6L96.4,8.4L90.2,14.9Z" fill="url(#gGold)"/>
<path d="M82.8,10.6L90.1,15.3" stroke="#ffe79a" stroke-width="1.2" fill="none"/>
</g>
<!-- server + cloud -->
<g>
<path d="M112,2.2L114.5,1.2H121L123,2.6V10.5H112z" fill="url(#gBlue)"/>
<path d="M112.4,2.3L115.4,4V10" fill="none" stroke="#e6f4ff" stroke-width="0.9"/>
<path d="M117,6.3h4.7" stroke="#f0f8ff" stroke-width="1.1"/>
<path d="M112.6,16.6h10.8a2.7,2.7 0 0 0 0.3,-5.3a2.3,2.3 0 0 0 -3.6,-1a3.1,3.1 0 0 0 -5.6,0.7a2,2 0 0 0 -2.6,1.4a2.3,2.3 0 0 0 0.7,4.2z" fill="url(#gCloud)" stroke="#4a68a8" stroke-width="0.9"/>
</g>
<!-- signal -->
<g transform="translate(138,1)" fill="none">
<circle cx="8.2" cy="8" r="7.3" stroke="#a9c2ea" stroke-width="1.1"/>
<circle cx="8.2" cy="8" r="4.8" stroke="#7f9fe0" stroke-width="1.1"/>
<path d="M8.2,8L8.2,15.8A7.6,7.6 0 0 0 15.8,8z" fill="#8cc58c" fill-opacity="0.75"/>
<circle cx="8.2" cy="8" r="1.9" fill="#2d5fd0"/>
<path d="M8.5,8.5V16" stroke="#2ea02e" stroke-width="1.4"/>
</g>
<!-- expert hat -->
<g transform="translate(165,1)">
<path d="M2,7L14.5,7L13,13L8,16.5L4.5,13z" fill="#f6cf3c" stroke="#d8a818" stroke-width="0.8"/>
<ellipse cx="8" cy="5.2" rx="7.6" ry="2.7" fill="#4d9fd8" stroke="#2d7fc0" stroke-width="0.8"/>
<path d="M4,4.5a4,3.6 0 0 1 8,0z" fill="#6db6e8" stroke="#2d7fc0" stroke-width="0.8"/>
<circle cx="12" cy="12.2" r="4" fill="#d8261c"/>
<rect x="10.4" y="10.6" width="3.2" height="3.2" fill="#fff"/>
</g>
<text x="186" y="12" font-family="Liberation Sans, Noto Sans CJK SC, sans-serif" font-size="11.7px" fill="#000">自动交易</text>
<!-- bar chart icon -->
<use href="#axes" x="257" y="0"/>
<path d="M265.5,4.5V11.5M265.5,4.5h2M265.5,11.5h-2" fill="none" stroke="#1d9a1d" stroke-width="1.2"/>
<!-- candle icon -->
<use href="#axes" x="285" y="0"/>
<path d="M293.5,1V13" stroke="#1d9a1d" stroke-width="1.2"/>
<rect x="291.5" y="3.5" width="4" height="7" fill="url(#gGreen)" stroke="#1d9a1d" stroke-width="1"/>
<!-- line chart icon -->
<use href="#axes" x="313" y="0"/>
<path d="M314.5,11.5C317,10 318.5,6.5 320.5,6.5S324,10 326,10.5" fill="none" stroke="#2e9a3e" stroke-width="1.2"/>
<!-- zoom in -->
<g transform="translate(345,1)">
<path d="M9.5,10.5L14.5,15" stroke="#b8941c" stroke-width="3" stroke-linecap="round"/>
<path d="M9.5,10.5L14.5,15" stroke="#f0d860" stroke-width="1.2" stroke-linecap="round"/>
<circle cx="6.2" cy="6.1" r="5.4" fill="url(#gLens)" stroke="#2e78d0" stroke-width="1.1"/>
<path d="M3.2,6.1h6M6.2,3.1v6" stroke="#2f7fc4" stroke-width="1.6"/>
</g>
<!-- zoom out -->
<g transform="translate(373,1)">
<path d="M9.5,10.5L14.5,15" stroke="#b8941c" stroke-width="3" stroke-linecap="round"/>
<path d="M9.5,10.5L14.5,15" stroke="#f0d860" stroke-width="1.2" stroke-linecap="round"/>
<circle cx="6.2" cy="6.1" r="5.4" fill="url(#gLens)" stroke="#2e78d0" stroke-width="1.1"/>
<path d="M3.2,6.1h6" stroke="#2f7fc4" stroke-width="1.6"/>
</g>
<!-- tile windows -->
<g transform="translate(401,1)" shape-rendering="crispEdges">
<rect x="0" y="0" width="8" height="8" fill="#3fa51e"/><rect x="8" y="0" width="8" height="8" fill="#2a60d8"/>
<rect x="0" y="8" width="8" height="8" fill="#2a60d8"/><rect x="8" y="8" width="8" height="8" fill="#3fa51e"/>
<rect x="1" y="3" width="6" height="4" fill="#f4faf0"/><rect x="9" y="3" width="6" height="4" fill="#eef3ff"/>
<rect x="1" y="11" width="6" height="4" fill="#eef3ff"/><rect x="9" y="11" width="6" height="4" fill="#f4faf0"/>
<rect x="2" y="4" width="4" height="1" fill="#9fd48a"/><rect x="10" y="4" width="4" height="1" fill="#9fb8f0"/>
<rect x="2" y="12" width="4" height="1" fill="#9fb8f0"/><rect x="10" y="12" width="4" height="1" fill="#9fd48a"/>
</g>
<!-- autoscroll -->
<use href="#axes" x="437" y="0"/>
<path d="M444.5,5.2L448,8.5L444.5,11.8z" fill="#7fe07f" stroke="#1d9a1d" stroke-width="1.1"/>
<!-- chart shift -->
<use href="#axes" x="465" y="0"/>
<path d="M473.5,3V13" stroke="#1c6fb0" stroke-width="1.3"/>
<path d="M475,8.5h4M477,6.5L475,8.5L477,10.5" stroke="#d84a0a" stroke-width="1.2" fill="none"/>
<!-- new chart -->
<use href="#doc" x="498" y="1"/>
<path d="M503,4.5c-1.5,0.5 -1.5,2 -1.5,3.5s0,2.5 -1,3" stroke="#707060" stroke-width="0.9" fill="none"/>
<use href="#plus" x="501.5" y="7"/>
<use href="#dd" x="519.8" y="8"/>
<!-- clock -->
<g transform="translate(536,1)">
<circle cx="8" cy="8" r="6.8" fill="#fbfdff" stroke="url(#gBlue2)" stroke-width="2.4"/>
<g fill="#9aa6b4"><circle cx="8" cy="3.6" r="0.45"/><circle cx="12.4" cy="8" r="0.45"/><circle cx="8" cy="12.4" r="0.45"/><circle cx="3.6" cy="8" r="0.45"/></g>
<path d="M8,4.6V8.3H10.6" stroke="#303030" stroke-width="1.1" fill="none"/>
</g>
<use href="#dd" x="558.8" y="8"/>
<!-- template -->
<g transform="translate(575,2)">
<rect x="0.5" y="0.5" width="15" height="13.5" fill="#fdfdfd" stroke="#3c78c8" stroke-width="1"/>
<rect x="1" y="1" width="14" height="2" fill="#4a8ad8"/>
<path d="M1,8.5h14" stroke="#3c78c8" stroke-width="1"/>
<path d="M2.5,6.5l2.5,-0.5l2,-1.5l2,1l2,-0.5l2,-0.8" stroke="#a03010" stroke-width="1.2" fill="none"/>
<path d="M3,11.5l2,-0.5l1.5,0.5l2,-1.5l1.5,1l1.5,-1.5l1.5,2" stroke="#1d8a2d" stroke-width="1.2" fill="none"/>
</g>
<use href="#dd" x="597.8" y="8"/>
<!-- cursor -->
<path d="M627,2V14L629.8,11.2L632.3,16L634,15.2L631.6,10.4L635.2,10z" fill="#505050"/>
<!-- crosshair -->
<g stroke="#505050" stroke-width="1.1" shape-rendering="crispEdges"><path d="M652,9.5h6.5M660.5,9.5h6.5M659.5,2v6.5M659.5,10.5v6.5"/></g>
<!-- vline, hline, trend -->
<g stroke="#505050" stroke-width="1.2"><path d="M693.5,3V16" shape-rendering="crispEdges"/><path d="M716,9.5H728" shape-rendering="crispEdges"/><path d="M743.7,16L756.1,3.5"/></g>
<!-- channel E -->
<g stroke="#505050" fill="none">
<path d="M769.5,10.6L777.8,2.9M770.5,14.8L783.7,3.2M774.8,15.7L784.3,7.4" stroke-width="0.8" stroke-dasharray="1 0.5"/>
<path d="M772.3,8.3L772.3,15.7M775.5,7.4L775.2,12.3M778.5,5.5L778.8,12M781.5,1.2L782.2,8" stroke-width="1.4" stroke="#404040"/>
</g>
<text x="780.6" y="17.6" font-family="Liberation Sans, sans-serif" font-size="6.5px" font-weight="bold" fill="#404040">E</text>
<!-- fibo F -->
<g stroke="#505050" stroke-width="1" stroke-dasharray="1 1" shape-rendering="crispEdges"><path d="M799,2.5h13M799,5.5h13M799,9.5h13M799,13.5h9"/></g>
<text x="808.8" y="17.6" font-family="Liberation Sans, sans-serif" font-size="6.5px" font-weight="bold" fill="#404040">F</text>
<!-- A -->
<text transform="translate(829.7 13.8) scale(0.9 1)" font-family="Liberation Sans, sans-serif" font-size="12.3px" fill="#505050" stroke="#505050" stroke-width="0.3" text-rendering="geometricPrecision">A</text>
<!-- T box -->
<rect x="856.5" y="3.5" width="11" height="12" fill="none" stroke="#505050" stroke-width="1" stroke-dasharray="1 1" shape-rendering="crispEdges"/>
<text x="857.8" y="13.8" font-family="Liberation Sans, sans-serif" font-size="11px" fill="#505050" stroke="#505050" stroke-width="0.3">T</text>
<!-- arrows -->
<g fill="#505050"><path d="M883,5.5L886.5,2.6L890,5.5L886.5,7.4z"/><path d="M890,13L893.5,10.6L897,13L893.5,16z"/></g>
<path d="M884.6,10.2L887.2,12.4L891.6,6.6" stroke="#505050" stroke-width="1.3" fill="none"/>
<use href="#dd" x="903.7" y="8"/>
<!-- timeframes -->
<g font-family="Liberation Sans, sans-serif" font-size="10px" fill="#303030" stroke="#303030" stroke-width="0.15" text-rendering="geometricPrecision">
<text transform="translate(930 13) scale(0.95 1)">M1</text><text transform="translate(958.2 13) scale(0.95 1)">M5</text><text transform="translate(984.2 13) scale(0.95 1)">M15</text><text transform="translate(1012.2 13) scale(0.95 1)">M30</text><text transform="translate(1043.2 13) scale(0.95 1)">H1</text><text transform="translate(1070.2 13) scale(0.95 1)">H4</text><text transform="translate(1099.1 13) scale(0.95 1)">D1</text><text transform="translate(1126.9 13) scale(0.95 1)">W1</text><text transform="translate(1153.3 13) scale(0.95 1)">MN</text>
</g>
<!-- search -->
<path d="M1643.3,9.8L1639.3,13.8" stroke="#2458c8" stroke-width="2.4" stroke-linecap="round"/>
<circle cx="1646.6" cy="6.4" r="4.2" fill="#f0f2fa" stroke="#2458c8" stroke-width="1.2"/>
<!-- chat + badge -->
<path d="M1665.6,14.6L1666.4,17.4L1669.4,15.4z" fill="#d8dae4" stroke="#a0a0a0" stroke-width="0.8"/>
<ellipse cx="1669" cy="11" rx="6" ry="4.6" fill="url(#gCloud)" stroke="#a8a8a8" stroke-width="0.9"/>
<circle cx="1677.4" cy="6.4" r="8.3" fill="url(#gRed)"/>
<text transform="translate(1673.6 10.9) scale(0.88 1)" font-family="Liberation Sans, sans-serif" font-size="12px" font-weight="bold" fill="#fff">1</text>
</svg>

</body></html>
